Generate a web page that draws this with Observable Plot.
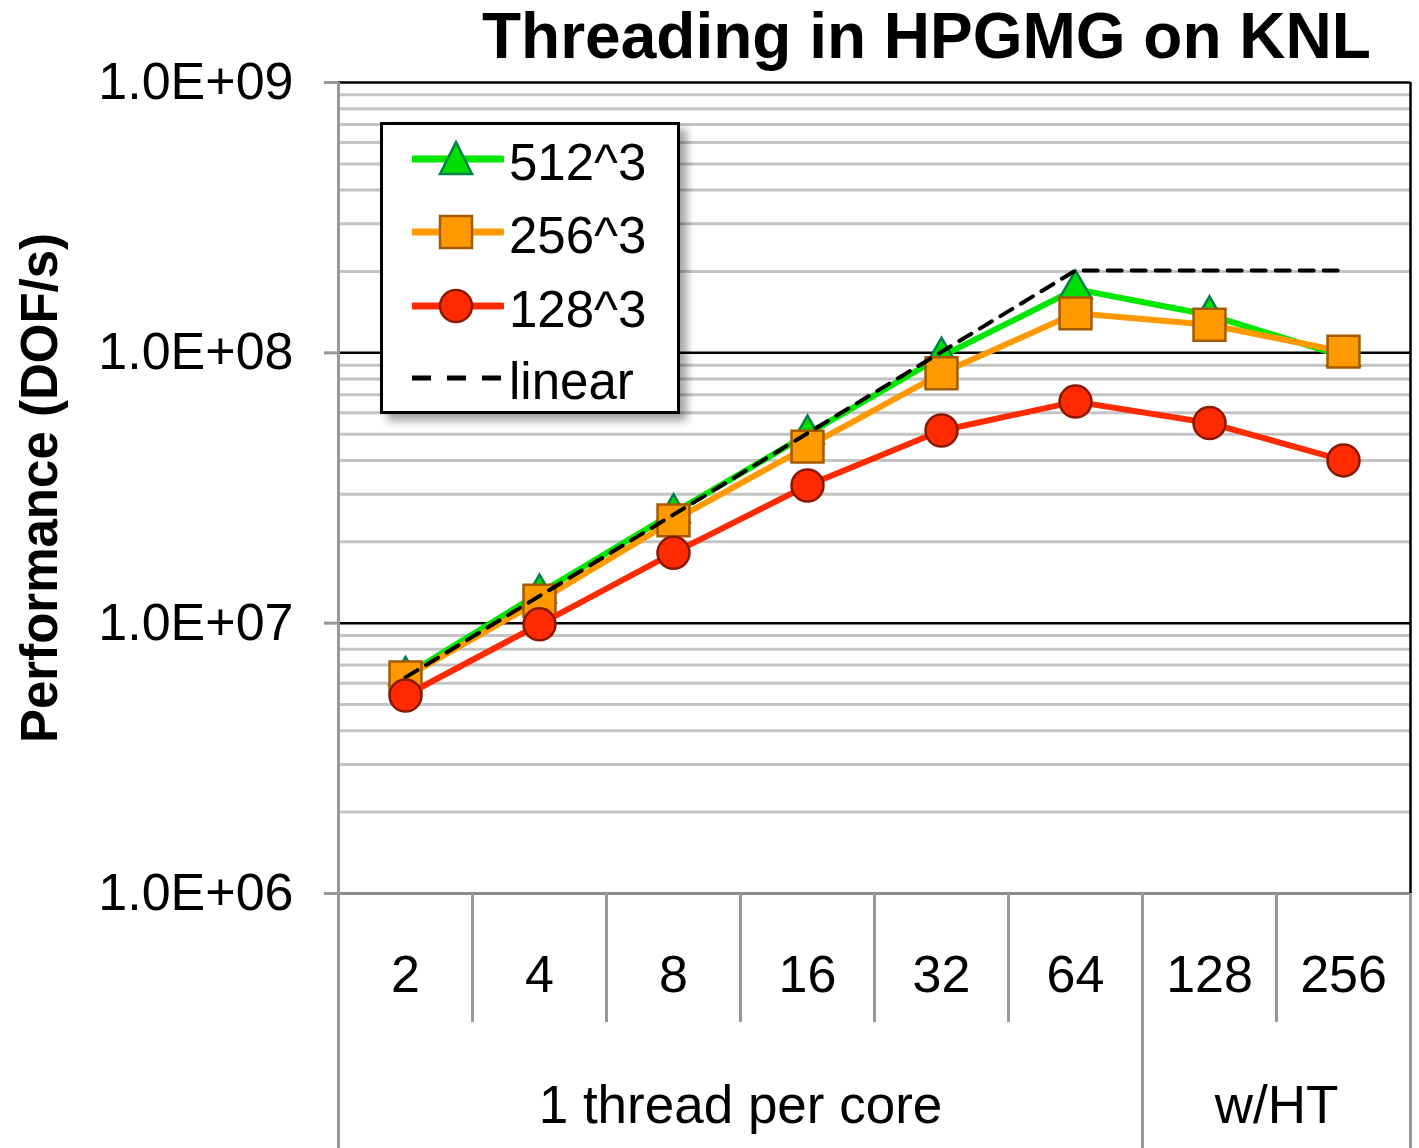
<!DOCTYPE html>
<html><head><meta charset="utf-8">
<script src="https://cdn.jsdelivr.net/npm/d3@7"></script>
<script src="https://cdn.jsdelivr.net/npm/@observablehq/plot@0.6"></script>
<style>
body{margin:0;background:#fff;font-family:"Liberation Sans",Arial,sans-serif;}
#wrap{position:relative;width:1419px;height:1148px;overflow:hidden;background:#fff}
#title{height:72px;line-height:72px;font-weight:bold;font-size:64px;padding-left:482px;white-space:nowrap;color:#000}
#legend{position:absolute;left:380px;top:122px;width:294px;height:286px;border:3px solid #000;background:#fff;box-shadow:7px 7px 8px rgba(0,0,0,0.35)}
.row{position:absolute;left:29px;height:60px;display:flex;align-items:center}
.row svg{flex:none}
.row span{font-size:51px;line-height:50px;margin-left:5px;position:relative;top:4px;color:#000}
</style>
</head><body>
<div id="wrap">
  <div id="title">Threading in HPGMG on KNL</div>
  <div id="chart"></div>
  <div id="legend"></div>
</div>
<script>
const sizes = ["2", "4", "8", "16", "32", "64", "128", "256"];
const groups = ["1 thread per core", "w/HT"];
const groupCounts = [6, 2];
const perf512 = [6.4e6, 1.29e7, 2.56e7, 5.0e7, 9.7e7, 1.72e8, 1.38e8, 9.7e7];
const perf256 = [6.3e6, 1.21e7, 2.4e7, 4.5e7, 8.4e7, 1.4e8, 1.27e8, 1.01e8];
const perf128 = [5.4e6, 9.9e6, 1.82e7, 3.23e7, 5.16e7, 6.6e7, 5.5e7, 4.0e7];
const perfLinear = [6.3e6, 1.26e7, 2.52e7, 5.04e7, 1.008e8, 2.016e8, 2.016e8, 2.016e8];
const yTicks = [1e6, 1e7, 1e8, 1e9];
const seriesNames = ["512^3", "256^3", "128^3", "linear"];

const idx = sizes.map((d, i) => i);
const rows = vals => vals.map((v, i) => ({i, v}));
const fmt = d => {
  const e = Math.round(Math.log10(d));
  const m = d / Math.pow(10, e);
  return m.toFixed(1) + "E+" + String(e).padStart(2, "0");
};
const minor = [];
for (let k = 0; k < yTicks.length - 1; k++) for (let m = 2; m <= 9; m++) minor.push(m * yTicks[k]);

// group boundaries and centers (in index space)
const groupBounds = [-0.5];
groupCounts.forEach(c => groupBounds.push(groupBounds[groupBounds.length - 1] + c));
const groupCenters = groups.map((g, j) => (groupBounds[j] + groupBounds[j + 1]) / 2);
const innerBounds = idx.slice(0, -1).map(i => i + 0.5).filter(b => !groupBounds.includes(b));

const C = {
  g: {line: "#00e800", fill: "#00dd00", stroke: "#00804a"},
  o: {line: "#ff9900", fill: "#ff9900", stroke: "#a35a00"},
  r: {line: "#ff2a00", fill: "#ff2a00", stroke: "#8b1800"}
};

const chart = Plot.plot({
  width: 1419,
  height: 1076,
  marginTop: 10,
  marginLeft: 338,
  marginRight: 9,
  marginBottom: 255,
  x: {type: "linear", domain: [-0.5, sizes.length - 0.5]},
  y: {type: "log", domain: [1e6, 1e9]},
  style: {fontFamily: "Liberation Sans, Arial, sans-serif", overflow: "visible", background: "white", color: "#000"},
  marks: [
    Plot.ruleY(minor, {stroke: "#c4c4c4", strokeWidth: 3}),
    Plot.ruleY(yTicks.slice(1), {stroke: "#000", strokeWidth: 2.5}),
    Plot.ruleY([yTicks[0]], {stroke: "#8c8c8c", strokeWidth: 3}),
    Plot.ruleX([groupBounds[0]], {stroke: "#999", strokeWidth: 3}),
    Plot.ruleX([groupBounds[groupBounds.length - 1]], {stroke: "#000", strokeWidth: 2.5}),
    Plot.axisY({ticks: yTicks, tickFormat: fmt, tickSize: 14, tickPadding: 31, fontSize: 52, stroke: "#999", strokeWidth: 3, label: null}),
    Plot.axisX(idx, {tickFormat: i => sizes[i], tickSize: 0, tickPadding: 62, fontSize: 52, label: null}),
    Plot.axisX(innerBounds, {tickSize: 129, tickFormat: () => "", stroke: "#999", strokeWidth: 3, label: null}),
    Plot.axisX(groupBounds, {tickSize: 255, tickFormat: () => "", stroke: "#999", strokeWidth: 3, label: null}),
    Plot.axisX(groupCenters, {tickFormat: c => groups[groupCenters.indexOf(c)], tickSize: 0, tickPadding: 192, fontSize: 53, label: null}),
    Plot.text(["Performance (DOF/s)"], {text: d => d, frameAnchor: "left", textAnchor: "middle", rotate: -90, dx: -298, fontSize: 51, fontWeight: "bold"}),
    Plot.line(rows(perf512), {x: "i", y: "v", stroke: C.g.line, strokeWidth: 6}),
    Plot.dot(rows(perf512), {x: "i", y: "v", symbol: "triangle", r: 12, fill: C.g.fill, stroke: C.g.stroke, strokeWidth: 2.5}),
    Plot.line(rows(perf256), {x: "i", y: "v", stroke: C.o.line, strokeWidth: 6}),
    Plot.dot(rows(perf256), {x: "i", y: "v", symbol: "square", r: 18, fill: C.o.fill, stroke: C.o.stroke, strokeWidth: 2.5}),
    Plot.line(rows(perfLinear), {x: "i", y: "v", stroke: "#000", strokeWidth: 4, strokeDasharray: "14 10"}),
    Plot.line(rows(perf128), {x: "i", y: "v", stroke: C.r.line, strokeWidth: 6}),
    Plot.dot(rows(perf128), {x: "i", y: "v", symbol: "circle", r: 16, fill: C.r.fill, stroke: C.r.stroke, strokeWidth: 2.5})
  ]
});
document.getElementById("chart").appendChild(chart);

// legend
const legend = document.getElementById("legend");
const rowCenters = [34, 107, 181, 253];
const swatches = [
  `<line x1="0" y1="30" x2="90" y2="30" stroke="${C.g.line}" stroke-width="7" stroke-linecap="round"/><path d="M44,13 L60,45 L28,45 Z" fill="${C.g.fill}" stroke="${C.g.stroke}" stroke-width="2.5"/>`,
  `<line x1="0" y1="30" x2="90" y2="30" stroke="${C.o.line}" stroke-width="7" stroke-linecap="round"/><rect x="28" y="14" width="32" height="32" fill="${C.o.fill}" stroke="${C.o.stroke}" stroke-width="2.5"/>`,
  `<line x1="0" y1="30" x2="90" y2="30" stroke="${C.r.line}" stroke-width="7" stroke-linecap="round"/><circle cx="44" cy="30" r="16" fill="${C.r.fill}" stroke="${C.r.stroke}" stroke-width="2.5"/>`,
  `<line x1="0" y1="30" x2="90" y2="30" stroke="#000" stroke-width="5" stroke-dasharray="19 16"/>`
];
seriesNames.forEach((name, k) => {
  const div = document.createElement("div");
  div.className = "row";
  div.style.top = (rowCenters[k] - 30) + "px";
  div.innerHTML = `<svg width="92" height="60">${swatches[k]}</svg><span>${name}</span>`;
  legend.appendChild(div);
});
</script>
</body></html>
